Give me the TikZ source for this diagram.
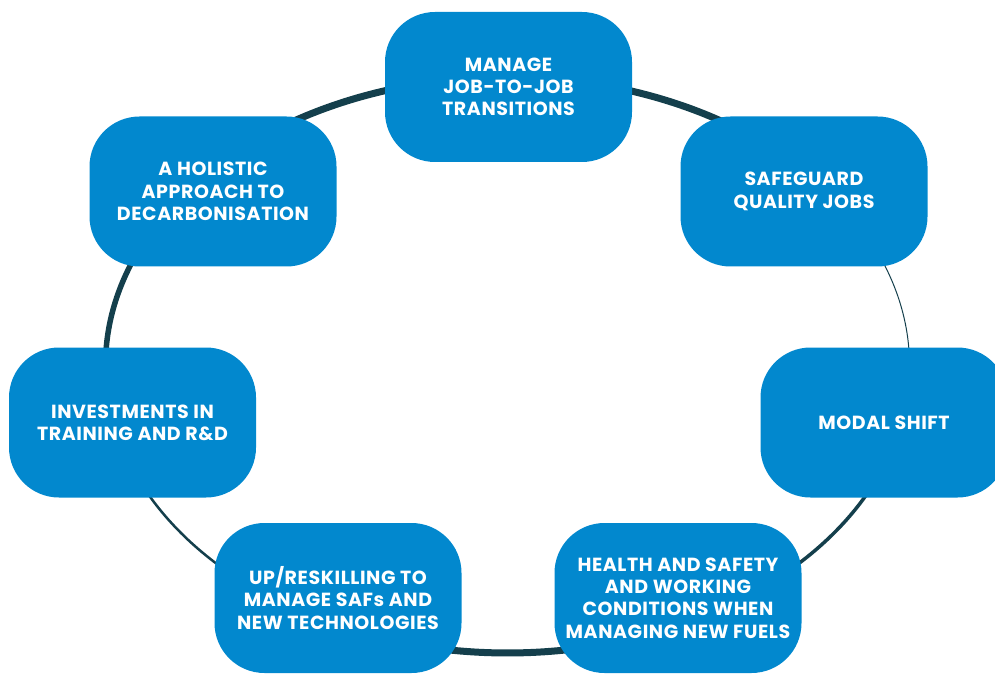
\documentclass[tikz,border=0pt]{standalone}
\usepackage{fontspec}
\setmainfont{Poppins}[LetterSpace=3]
\definecolor{boxblue}{HTML}{0288CE}
\definecolor{ringteal}{HTML}{143F4C}
\begin{document}
\begin{tikzpicture}[x=1pt,y=1pt,
  goal/.style={fill=boxblue, rounded corners=50pt, minimum width=247pt,
    minimum height=150pt, text=white, align=center, inner sep=0pt,
    font=\fontsize{19}{22.3}\selectfont\bfseries},
  ring/.style={draw=ringteal},
  ellarc/.style={x radius=402pt, y radius=288pt}]
\useasboundingbox (0,0) rectangle (995,673);
\coordinate (E) at (507.5,308);
\foreach \n/\t in {pman/90, psaf/39.2, pmod/-12, phea/-62.3, pup/-117.5, pinv/-167.9, phol/140.6}
  \path (E) ++(\t:402 and 288) coordinate (\n);
% ring segments
\draw[ring, line width=7pt]   (phol) arc[ellarc, start angle=140.6, end angle=90];
\draw[ring, line width=7pt]   (pman) arc[ellarc, start angle=90, end angle=39.2];
\draw[ring, line width=1pt]   (psaf) arc[ellarc, start angle=39.2, end angle=-12];
\draw[ring, line width=3.5pt] (pmod) arc[ellarc, start angle=-12, end angle=-62.3];
\draw[ring, line width=7pt]   (phea) arc[ellarc, start angle=-62.3, end angle=-117.5];
\draw[ring, line width=2.5pt] (pup)  arc[ellarc, start angle=-117.5, end angle=-167.9];
\draw[ring, line width=5.5pt] (pinv) arc[ellarc, start angle=192.1, end angle=140.6];
% boxes
\node[goal] (manage) at (508.5,586) {MANAGE\\JOB-TO-JOB\\TRANSITIONS};
\node[goal] (safe)   at (804,481.5) {SAFEGUARD\\QUALITY JOBS};
\node[goal] (modal)  at (884,250.5) {MODAL SHIFT};
\node[goal] (health) at (678,75) {HEALTH AND SAFETY\\AND WORKING\\CONDITIONS WHEN\\MANAGING NEW FUELS};
\node[goal] (up)     at (338,75) {UP/RESKILLING TO\\MANAGE SAFs AND\\NEW TECHNOLOGIES};
\node[goal] (inv)    at (132.5,250.5) {INVESTMENTS IN\\TRAINING AND R\&D};
\node[goal] (hol)    at (213,481.5) {A HOLISTIC\\APPROACH TO\\DECARBONISATION};
\end{tikzpicture}
\end{document}
